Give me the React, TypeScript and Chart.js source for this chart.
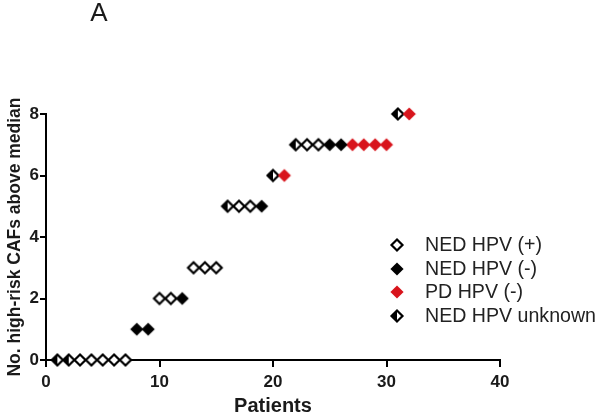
import React, { useEffect, useRef } from 'react';
import { Chart, registerables } from 'chart.js';
Chart.register(...registerables);

// Patients (x) and number of high-risk CAFs above median (y), per group
const nedPosX = [3, 4, 5, 6, 7, 10, 11, 13, 14, 15, 17, 18, 23, 24];
const nedPosY = [0, 0, 0, 0, 0, 2, 2, 3, 3, 3, 5, 5, 7, 7];
const nedNegX = [8, 9, 12, 19, 25, 26];
const nedNegY = [1, 1, 2, 5, 7, 7];
const pdNegX = [21, 27, 28, 29, 30, 32];
const pdNegY = [6, 7, 7, 7, 7, 8];
const unknownX = [1, 2, 16, 20, 22, 31];
const unknownY = [0, 0, 5, 6, 7, 8];

const seriesLabels = ['NED HPV (+)', 'NED HPV (-)', 'PD HPV (-)', 'NED HPV unknown'];
const xTicks = [0, 10, 20, 30, 40];
const yTicks = [0, 2, 4, 6, 8];
const panelLetter = 'A';
const xTitle = 'Patients';
const yTitle = 'No. high-risk CAFs above median';

const FONT = "'Liberation Sans', Arial, Helvetica, sans-serif";
const RED = '#d8141c';
const INK = '#1a1a1a';

type Kind = 'open' | 'filled' | 'red' | 'half';

function makeMarker(kind: Kind): HTMLCanvasElement {
  const s = 16;
  const c = document.createElement('canvas');
  c.width = s;
  c.height = s;
  const ctx = c.getContext('2d')!;
  const cx = s / 2;
  const cy = s / 2;
  const diamond = (r: number) => {
    ctx.beginPath();
    ctx.moveTo(cx, cy - r);
    ctx.lineTo(cx + r, cy);
    ctx.lineTo(cx, cy + r);
    ctx.lineTo(cx - r, cy);
    ctx.closePath();
  };
  if (kind === 'open') {
    diamond(5.5);
    ctx.fillStyle = '#fff';
    ctx.fill();
    ctx.lineWidth = 2.2;
    ctx.strokeStyle = '#000';
    ctx.stroke();
  } else if (kind === 'filled' || kind === 'red') {
    diamond(6.6);
    ctx.fillStyle = kind === 'red' ? RED : '#000';
    ctx.fill();
  } else {
    const r = 5.5;
    diamond(r);
    ctx.fillStyle = '#fff';
    ctx.fill();
    ctx.beginPath();
    ctx.moveTo(cx, cy - r);
    ctx.lineTo(cx, cy + r);
    ctx.lineTo(cx - r, cy);
    ctx.closePath();
    ctx.fillStyle = '#000';
    ctx.fill();
    diamond(r);
    ctx.lineWidth = 2.2;
    ctx.strokeStyle = '#000';
    ctx.stroke();
  }
  return c;
}

function pts(xs: number[], ys: number[]) {
  return xs.map((x, i) => ({ x, y: ys[i] }));
}

export default function App() {
  const ref = useRef<HTMLCanvasElement | null>(null);

  useEffect(() => {
    document.body.style.margin = '0';
    const canvas = ref.current;
    if (!canvas) return;
    const markers = [makeMarker('open'), makeMarker('filled'), makeMarker('red'), makeMarker('half')];

    const decorPlugin = {
      id: 'decor',
      afterDraw(chart: any) {
        const ctx = chart.ctx as CanvasRenderingContext2D;
        ctx.save();
        ctx.fillStyle = INK;
        ctx.font = `26px ${FONT}`;
        ctx.textAlign = 'center';
        ctx.textBaseline = 'middle';
        ctx.fillText(panelLetter, 99, 14);
        // legend
        const rows = [245, 269, 292, 316];
        ctx.font = `19.6px ${FONT}`;
        ctx.textAlign = 'left';
        ctx.fillStyle = '#222';
        seriesLabels.forEach((lab, i) => {
          const m = markers[i];
          ctx.drawImage(m, 397 - m.width / 2, rows[i] - m.height / 2);
          ctx.fillText(lab, 425, rows[i] + 1);
        });
        ctx.restore();
      },
    };

    const chart = new Chart(canvas, {
      type: 'scatter',
      data: {
        datasets: [
          { label: seriesLabels[0], data: pts(nedPosX, nedPosY), pointStyle: markers[0] as any },
          { label: seriesLabels[1], data: pts(nedNegX, nedNegY), pointStyle: markers[1] as any },
          { label: seriesLabels[2], data: pts(pdNegX, pdNegY), pointStyle: markers[2] as any },
          { label: seriesLabels[3], data: pts(unknownX, unknownY), pointStyle: markers[3] as any },
        ].map((d) => ({ ...d, clip: false as any, pointRadius: 6, pointHoverRadius: 6 })),
      },
      options: {
        responsive: false,
        animation: false,
        events: [],
        layout: { padding: { top: 114, right: 100, left: 0, bottom: 0 } },
        plugins: {
          legend: { display: false },
          tooltip: { enabled: false },
          title: { display: false },
        },
        scales: {
          x: {
            type: 'linear',
            min: 0,
            max: 40,
            afterBuildTicks: (s: any) => {
              s.ticks = xTicks.map((v) => ({ value: v }));
            },
            afterFit: (s: any) => {
              s.height = 57;
            },
            grid: { drawOnChartArea: false, drawTicks: true, tickLength: 7, color: '#000', lineWidth: 2 },
            border: { display: true, color: '#000', width: 2 },
            ticks: { color: INK, padding: 5, font: { family: FONT, size: 17, weight: 'bold' } },
            title: {
              display: true,
              text: xTitle,
              color: INK,
              font: { family: FONT, size: 20, weight: 'bold', lineHeight: 1 },
              padding: { top: 0, bottom: 1 },
            },
          },
          y: {
            type: 'linear',
            min: 0,
            max: 8,
            afterBuildTicks: (s: any) => {
              s.ticks = yTicks.map((v) => ({ value: v }));
            },
            afterFit: (s: any) => {
              s.width = 46;
            },
            grid: { drawOnChartArea: false, drawTicks: true, tickLength: 6, color: '#000', lineWidth: 2 },
            border: { display: true, color: '#000', width: 2 },
            ticks: { color: INK, padding: 1, font: { family: FONT, size: 17, weight: 'bold' } },
            title: {
              display: true,
              text: yTitle,
              color: INK,
              font: { family: FONT, size: 17.5, weight: 'bold', lineHeight: 1.2 },
              padding: { top: 5, bottom: 0 },
            },
          },
        },
      },
      plugins: [decorPlugin],
    } as any);

    return () => chart.destroy();
  }, []);

  return <canvas ref={ref} width={600} height={417} style={{ display: 'block' }} />;
}
